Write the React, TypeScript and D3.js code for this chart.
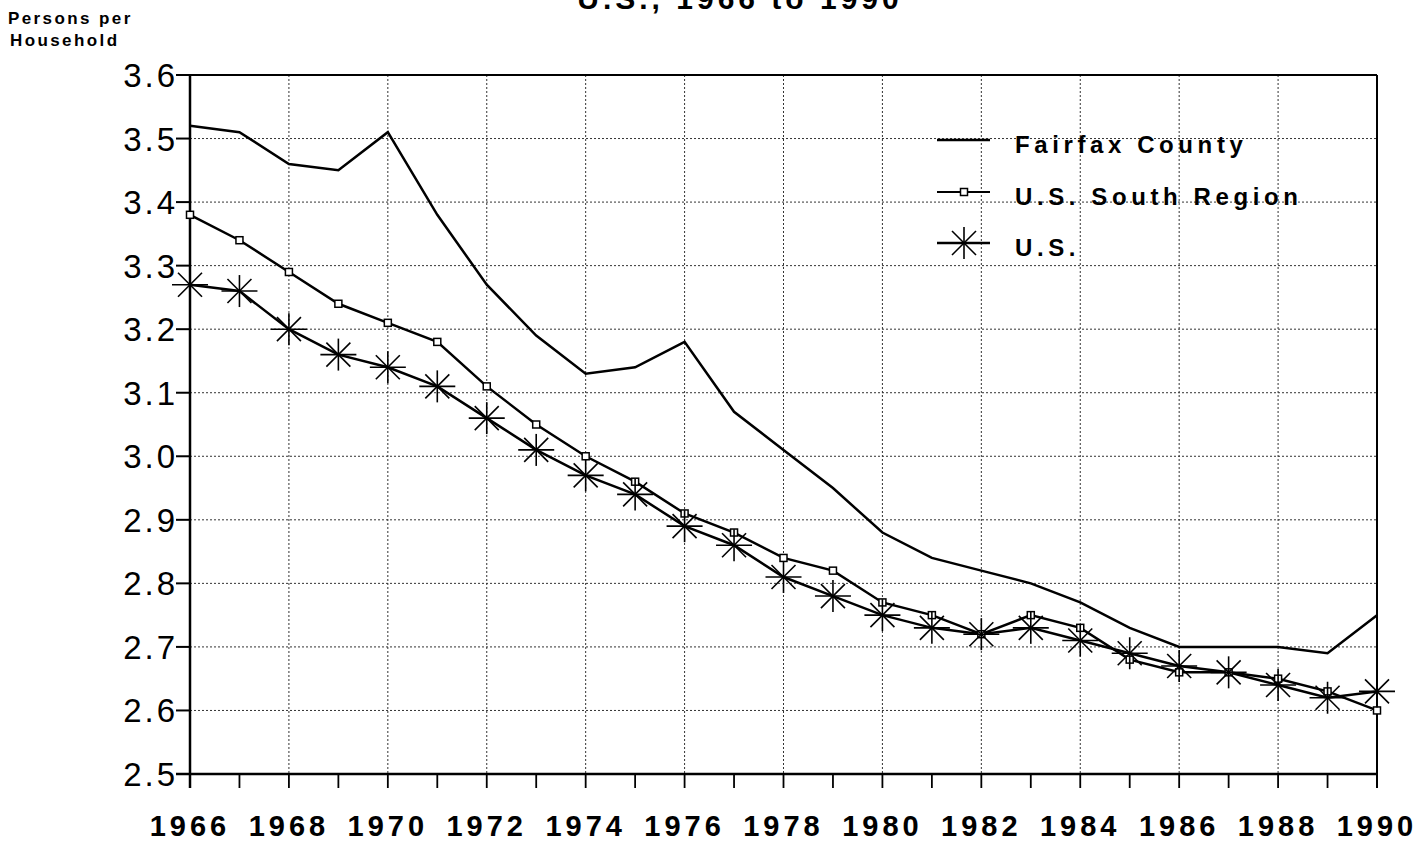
import React from 'react';
import * as d3 from 'd3';

const WIDTH = 1425;
const HEIGHT = 850;
const MARGIN = { top: 75, right: 48, bottom: 76, left: 190 };

const years = d3.range(1966, 1991);
const fairfax = [3.52, 3.51, 3.46, 3.45, 3.51, 3.38, 3.27, 3.19, 3.13, 3.14, 3.18, 3.07, 3.01, 2.95, 2.88, 2.84, 2.82, 2.80, 2.77, 2.73, 2.70, 2.70, 2.70, 2.69, 2.75];
const southRegion = [3.38, 3.34, 3.29, 3.24, 3.21, 3.18, 3.11, 3.05, 3.00, 2.96, 2.91, 2.88, 2.84, 2.82, 2.77, 2.75, 2.72, 2.75, 2.73, 2.68, 2.66, 2.66, 2.65, 2.63, 2.60];
const unitedStates = [3.27, 3.26, 3.20, 3.16, 3.14, 3.11, 3.06, 3.01, 2.97, 2.94, 2.89, 2.86, 2.81, 2.78, 2.75, 2.73, 2.72, 2.73, 2.71, 2.69, 2.67, 2.66, 2.64, 2.62, 2.63];

const yTicks = [2.5, 2.6, 2.7, 2.8, 2.9, 3.0, 3.1, 3.2, 3.3, 3.4, 3.5, 3.6];
const xLabelYears = d3.range(1966, 1991, 2);
const legendLabels = ['Fairfax County', 'U.S. South Region', 'U.S.'];

const FONT = '"Liberation Sans", Arial, Helvetica, sans-serif';

const Star = ({ x, y }: { x: number; y: number }) => (
  <g stroke="#000" strokeWidth={1.6}>
    <line x1={x - 18} x2={x + 18} y1={y} y2={y} />
    <line x1={x} x2={x} y1={y - 16} y2={y + 16} />
    <line x1={x - 12} x2={x + 12} y1={y - 12} y2={y + 12} />
    <line x1={x - 12} x2={x + 12} y1={y + 12} y2={y - 12} />
  </g>
);

const Square = ({ x, y }: { x: number; y: number }) => (
  <rect x={x - 3.5} y={y - 3.5} width={7} height={7} fill="#fff" stroke="#000" strokeWidth={1.5} />
);

export default function App() {
  const x = d3.scaleLinear()
    .domain([1966, 1990])
    .range([MARGIN.left, WIDTH - MARGIN.right]);

  const y = d3.scaleLinear()
    .domain([2.5, 3.6])
    .range([HEIGHT - MARGIN.bottom, MARGIN.top]);

  const line = d3.line<number>()
    .x((d, i) => x(years[i]))
    .y(d => y(d));

  const x0 = x(1966);
  const x1 = x(1990);
  const yBottom = y(2.5);
  const yTop = y(3.6);

  return (
    <svg width={WIDTH} height={HEIGHT} style={{ position: 'absolute', left: 0, top: 0, background: '#fff' }}
      fontFamily={FONT}>
      {/* title, cut off by the top edge as in the source scan */}
      <text x={740} y={9} textAnchor="middle" fontSize={30} fontWeight="bold" letterSpacing={4}>U.S., 1966 to 1990</text>

      <text x={8} y={24} fontSize={17} fontWeight="bold" letterSpacing={2.4}>Persons per</text>
      <text x={10} y={46} fontSize={17} fontWeight="bold" letterSpacing={2.4}>Household</text>

      {/* grid */}
      {yTicks.filter(t => t > 2.5 && t < 3.6).map(t => (
        <line key={'h' + t} x1={x0} x2={x1} y1={y(t)} y2={y(t)}
          stroke="#333" strokeWidth={1} strokeDasharray="2,2" />
      ))}
      {years.filter(yr => yr % 2 === 0 && yr > 1966 && yr < 1990).map(yr => (
        <line key={'v' + yr} x1={x(yr)} x2={x(yr)} y1={yTop} y2={yBottom}
          stroke="#333" strokeWidth={1} strokeDasharray="2,2" />
      ))}

      {/* frame and axes */}
      <line x1={x0 - 14} x2={x1} y1={yTop} y2={yTop} stroke="#000" strokeWidth={2} />
      <line x1={x1} x2={x1} y1={yTop} y2={yBottom + 14} stroke="#000" strokeWidth={2} />
      <line x1={x0} x2={x0} y1={yTop} y2={yBottom + 14} stroke="#000" strokeWidth={2.5} />
      <line x1={x0 - 14} x2={x1} y1={yBottom} y2={yBottom} stroke="#000" strokeWidth={2.5} />

      {yTicks.map(t => (
        <g key={'yt' + t}>
          <line x1={x0 - 14} x2={x0} y1={y(t)} y2={y(t)} stroke="#000" strokeWidth={2} />
          <text x={x0 - 12} y={y(t) + 12} textAnchor="end" fontSize={33} letterSpacing={3}>{t.toFixed(1)}</text>
        </g>
      ))}
      {years.map(yr => (
        <line key={'xt' + yr} x1={x(yr)} x2={x(yr)} y1={yBottom} y2={yBottom + 14} stroke="#000" strokeWidth={1.8} />
      ))}
      {xLabelYears.map(yr => (
        <text key={'xl' + yr} x={x(yr)} y={836} textAnchor="middle" fontSize={29} fontWeight="bold" letterSpacing={4}>{yr}</text>
      ))}

      {/* series */}
      <path d={line(fairfax) ?? ''} fill="none" stroke="#000" strokeWidth={2.5} />
      <path d={line(southRegion) ?? ''} fill="none" stroke="#000" strokeWidth={2.5} />
      <path d={line(unitedStates) ?? ''} fill="none" stroke="#000" strokeWidth={2.5} />
      {southRegion.map((v, i) => <Square key={'s' + i} x={x(years[i])} y={y(v)} />)}
      {unitedStates.map((v, i) => <Star key={'u' + i} x={x(years[i])} y={y(v)} />)}

      {/* legend */}
      <g>
        <line x1={937} x2={990} y1={140} y2={140} stroke="#000" strokeWidth={2.5} />
        <text x={1015} y={153} fontSize={24} fontWeight="bold" letterSpacing={4.6}>{legendLabels[0]}</text>
        <line x1={937} x2={990} y1={192} y2={192} stroke="#000" strokeWidth={2} />
        <Square x={964} y={192} />
        <text x={1015} y={205} fontSize={24} fontWeight="bold" letterSpacing={4.6}>{legendLabels[1]}</text>
        <line x1={937} x2={990} y1={243} y2={243} stroke="#000" strokeWidth={2.5} />
        <Star x={964} y={243} />
        <text x={1015} y={256} fontSize={24} fontWeight="bold" letterSpacing={4.6}>{legendLabels[2]}</text>
      </g>
    </svg>
  );
}
